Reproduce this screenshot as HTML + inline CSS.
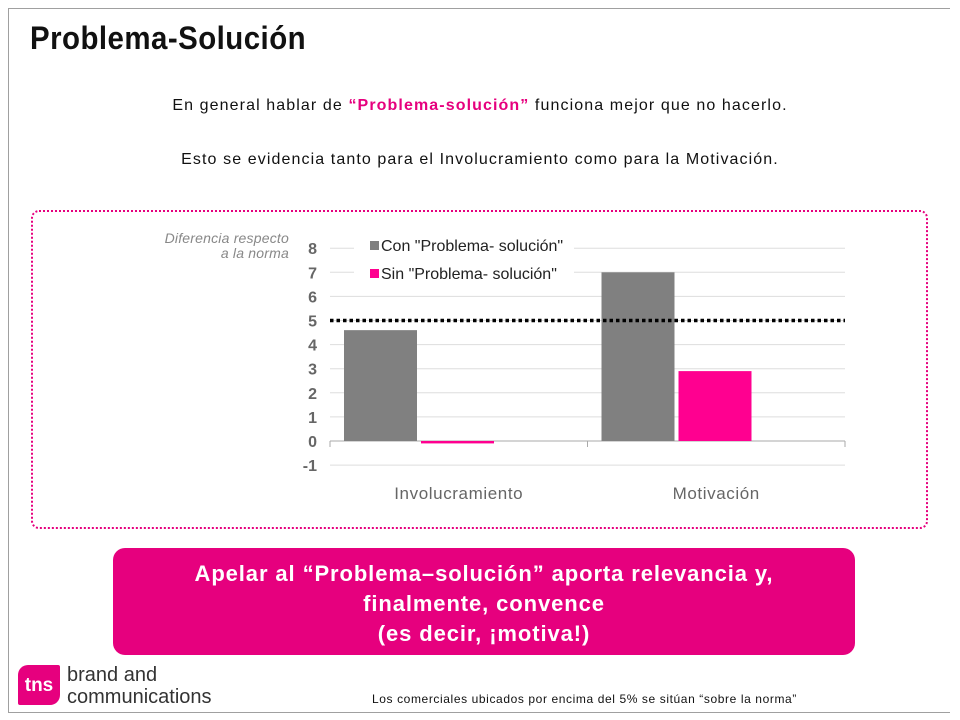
<!DOCTYPE html>
<html><head><meta charset="utf-8"><style>
body{margin:0;width:960px;height:720px;background:#fff;font-family:"Liberation Sans",sans-serif;position:relative;overflow:hidden}
.abs{position:absolute}
</style></head><body>
<div class="abs" style="left:8px;top:8px;width:941px;height:703px;border:1px solid #a0a0a0;border-right:none"></div>
<div class="abs" style="left:30px;top:20px;font-size:32px;font-weight:bold;color:#111;transform:scaleX(0.92);transform-origin:left;letter-spacing:0.5px">Problema-Solución</div>
<div class="abs" style="left:0;width:960px;top:97px;text-align:center;font-size:16px;letter-spacing:1.1px;color:#111">En general hablar de <b style="color:#e6007e">“Problema-solución”</b> funciona mejor que no hacerlo.</div>
<div class="abs" style="left:0;width:960px;top:151px;text-align:center;font-size:16px;letter-spacing:1.1px;color:#111">Esto se evidencia tanto para el Involucramiento como para la Motivación.</div>
<div class="abs" style="left:31px;top:210px;width:893px;height:315px;border:2px dotted #e6007e;border-radius:8px"></div>
<div class="abs" style="left:100px;top:231px;width:189px;text-align:right;font-size:14px;letter-spacing:0.2px;font-style:italic;color:#888;line-height:15px">Diferencia respecto<br>a la norma</div>
<svg class="abs" style="left:0;top:0" width="960" height="720">
<g id="g"></g></svg>
<div class="abs" style="left:113px;top:548px;width:742px;height:107px;background:#e6007e;border-radius:12px;color:#fff;font-weight:bold;font-size:22px;letter-spacing:0.9px;text-align:center;line-height:30px;padding-top:11px;box-sizing:border-box">Apelar al “Problema–solución” aporta relevancia y,<br>finalmente, convence<br>(es decir, ¡motiva!)</div>
<div class="abs" style="left:18px;top:665px;width:42px;height:40px;background:#e6007e;border-radius:10px 2px 10px 2px;color:#fff;font-size:19px;font-weight:bold;line-height:42px;text-align:center">tns</div>
<div class="abs" style="left:67px;top:664px;font-size:20px;color:#333;line-height:22px">brand and<br>communications</div>
<div class="abs" style="left:372px;top:692px;font-size:12px;letter-spacing:0.6px;color:#111">Los comerciales ubicados por encima del 5% se sitúan “sobre la norma”</div>
<script>
const categories=["Involucramiento","Motivación"];
const conValues=[4.6,7.0];
const sinValues=[-0.1,2.9];
const yTicks=[-1,0,1,2,3,4,5,6,7,8];
const normValue=5;
const seriesNames=['Con "Problema- solución"','Sin "Problema- solución"'];
const NS="http://www.w3.org/2000/svg",g=document.getElementById("g");
const x0=330,x1=845,y=v=>441-v*24.1,bw=(x1-x0)/categories.length;
function mk(t,a,txt){const e=document.createElementNS(NS,t);for(const k in a)e.setAttribute(k,a[k]);if(txt!==undefined)e.textContent=txt;g.appendChild(e);return e;}
yTicks.forEach(t=>{
 const l=mk("line",{x1:x0,x2:x1,y1:y(t),y2:y(t),stroke:t===0?"#aaa":"#ddd","stroke-width":1});
 
 
 const tx=mk("text",{x:317,y:y(t)+6,"text-anchor":"end","font-size":16,"font-weight":"bold",fill:"#666","font-family":"Liberation Sans"},t);
 
 
});
[x0,x0+bw,x1].forEach(xx=>{const l=mk("line",{x1:xx,x2:xx,y1:y(0),y2:y(0)+6,stroke:"#aaa"});
 
 });
categories.forEach((c,i)=>{
 const cx=x0+bw*i;
 [[conValues[i],"#808080",14],[sinValues[i],"#ff0090",91]].forEach(([v,col,off],j)=>{
  const r=mk("rect",{x:cx+off,width:73,y:Math.min(y(v),y(0)),height:Math.abs(y(v)-y(0)),fill:col});
  
  
 });
 const t=mk("text",{x:cx+bw/2,y:499,"text-anchor":"middle","font-size":17,"letter-spacing":"0.6",fill:"#666","font-family":"Liberation Sans"},c);
 
 
});
const n=mk("line",{x1:x0,x2:x1,y1:y(normValue),y2:y(normValue),stroke:"#000","stroke-width":3.5,"stroke-dasharray":"3.5 3"});


const lb=mk("rect",{x:354,y:238,width:220,height:50,fill:"#fff"});


seriesNames.forEach((s,i)=>{
 const r=mk("rect",{x:370,y:241+i*28,width:9,height:9,fill:i?"#ff0090":"#808080"});
 
 
 const t=mk("text",{x:381,y:251+i*28,"font-size":16,fill:"#222","font-family":"Liberation Sans"},s);
 
 
});
</script>
</body></html>
